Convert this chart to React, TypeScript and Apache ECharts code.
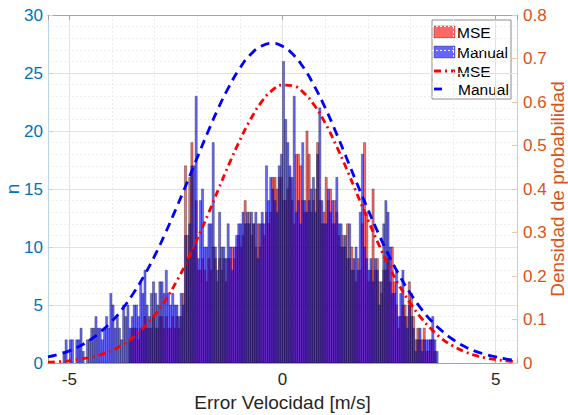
import React, { useEffect, useRef } from 'react';
import * as echarts from 'echarts';

const binStart = -5.15;
const binWidth = 0.05;

const manualCounts = [
  1, 2, 0, 2, 2, 0, 2, 2, 3, 1, 0, 2, 2, 3, 3, 4, 3, 3, 2, 3,
  4, 3, 6, 5, 3, 4, 3, 2, 5, 4, 5, 3, 4, 5, 5, 4, 7, 6, 8, 5,
  4, 6, 7, 6, 5, 7,
  7, 6, 8, 6, 5, 6, 5, 5, 4, 6, 5, 11, 9, 12, 17, 17, 23, 9, 14, 15,
  10, 10, 12, 12, 19, 10, 8, 13, 10, 10, 9, 12, 10, 8, 10, 11, 12, 12, 13, 12,
  13, 12, 13, 12, 13, 9, 12, 13, 12, 17, 14, 16, 15, 14, 13, 17,
  18, 26, 21, 19, 17, 16, 23, 13, 14, 12, 19, 14, 13, 14, 15, 16, 13, 18, 22, 14,
  12, 12, 15, 13, 14, 12, 16, 12, 12, 10, 11, 9, 12, 8, 9, 10, 8, 13, 18, 10,
  9, 8, 9, 7, 9, 8, 5, 7, 12, 14, 13, 10, 6, 6,
  8, 4, 6, 8, 4, 3, 5, 4, 3, 1, 2, 3, 1, 2, 2, 2, 2, 4, 2, 1,
];

const mseCounts = [
  0, 0, 0, 0, 0, 0, 0, 0, 0, 0, 0, 0, 0, 0, 0, 0, 0, 0, 0, 0,
  0, 0, 0, 0, 0, 0, 0, 0, 0, 0, 0, 2, 3, 3, 3, 2, 3, 3, 4, 3,
  3, 3, 4, 3, 3, 4,
  4, 3, 4, 3, 3, 4, 3, 4, 3, 4, 6, 17, 11, 16, 19, 10, 14, 8, 8, 9,
  8, 7, 9, 8, 10, 9, 7, 9, 8, 9, 7, 9, 9, 10, 9, 10, 11, 10, 11, 14,
  12, 13, 11, 12, 10, 12, 10, 12, 11, 13, 12, 13, 16, 16, 15, 16,
  16, 14, 14, 15, 16, 14, 12, 18, 18, 17, 14, 13, 20, 18, 13, 14, 15, 19, 14, 12,
  13, 16, 14, 15, 12, 14, 13, 11, 10, 11, 10, 12, 9, 10, 8, 7, 9, 8, 12, 19,
  13, 7, 8, 15, 8, 9, 7, 6, 8, 8, 9, 7, 10, 7,
  5, 3, 4, 5, 5, 4, 7, 6, 4, 2, 3, 2, 2, 3, 1, 1, 2, 2, 1, 0,
];

const densityX = [
  -5.5, -5.25, -5, -4.75, -4.5, -4.25, -4, -3.75, -3.5, -3.25, -3, -2.75, -2.5, -2.25, -2,
  -1.75, -1.5, -1.25, -1, -0.75, -0.5, -0.25, 0, 0.25, 0.5, 0.75, 1, 1.25, 1.5, 1.75,
  2, 2.25, 2.5, 2.75, 3, 3.25, 3.5, 3.75, 4, 4.25, 4.5, 4.75, 5, 5.25, 5.5,
];

const mseDensity = [
  0.002, 0.003, 0.005, 0.009, 0.013, 0.020, 0.029, 0.042, 0.059, 0.082, 0.110, 0.144, 0.185, 0.232, 0.285,
  0.341, 0.400, 0.458, 0.512, 0.560, 0.599, 0.626, 0.639, 0.637, 0.621, 0.592, 0.552, 0.502, 0.447, 0.388,
  0.330, 0.274, 0.222, 0.176, 0.137, 0.104, 0.077, 0.055, 0.039, 0.027, 0.018, 0.012, 0.008, 0.005, 0.003,
];

const manualDensity = [
  0.014, 0.020, 0.028, 0.039, 0.054, 0.073, 0.096, 0.125, 0.160, 0.200, 0.246, 0.298, 0.354, 0.412, 0.472,
  0.531, 0.587, 0.636, 0.678, 0.709, 0.728, 0.735, 0.728, 0.709, 0.678, 0.636, 0.587, 0.531, 0.472, 0.412,
  0.354, 0.298, 0.246, 0.200, 0.160, 0.125, 0.096, 0.073, 0.054, 0.039, 0.028, 0.020, 0.014, 0.009, 0.006,
];

const xTickLabels = [-5, 0, 5];

const FONT = '"Liberation Sans", Arial, Helvetica, sans-serif';
const BLUE_AX = '#0072BD';
const ORANGE_AX = '#D95319';
const MSE_FILL = 'rgba(255,0,0,0.6)';
const MAN_FILL = 'rgba(0,0,255,0.6)';
const EDGE = 'rgba(30,30,30,0.6)';

function toBins(counts: number[]) {
  return counts
    .map((c, i) => [binStart + i * binWidth, binStart + (i + 1) * binWidth, c])
    .filter((d) => d[2] > 0);
}

function barRender(fill: string) {
  return (_params: any, api: any) => {
    const x0 = api.value(0);
    const x1 = api.value(1);
    const c = api.value(2);
    const p0 = api.coord([x0, c]);
    const p1 = api.coord([x1, 0]);
    return {
      type: 'rect',
      shape: { x: p0[0], y: p0[1], width: p1[0] - p0[0], height: p1[1] - p0[1] },
      style: { fill, stroke: EDGE, lineWidth: 0.6 },
    };
  };
}

export default function App() {
  const ref = useRef<HTMLDivElement>(null);
  useEffect(() => {
    if (!ref.current) return;
    const chart = echarts.init(ref.current, null, { renderer: 'svg' });
    const lx = 434;
    const legendText = {
      fontSize: 15.5, fontFamily: FONT, fill: '#000',
      align: 'left' as const, verticalAlign: 'middle' as const,
    };
    chart.setOption({
      animation: false,
      backgroundColor: '#fff',
      textStyle: { fontFamily: FONT },
      grid: { left: 48, right: 51, top: 15, bottom: 52, containLabel: false, outerBoundsMode: 'none' },
      xAxis: [
        {
          type: 'value', min: -5.5, max: 5.5, minInterval: 1, maxInterval: 1, position: 'bottom',
          axisLine: { show: true, onZero: false, lineStyle: { color: '#a6a6a6', width: 1 } },
          axisTick: { show: false }, axisLabel: { show: false },
          splitLine: { show: true, lineStyle: { color: '#ececec', type: [2, 2] } },
        },
        {
          type: 'value', min: -5.5, max: 5.5, minInterval: 5, maxInterval: 5, position: 'bottom',
          axisLine: { show: false, onZero: false },
          axisTick: { show: true, inside: true, length: 5, lineStyle: { color: '#a6a6a6' } },
          axisLabel: {
            show: true, color: '#262626', fontSize: 17, margin: 8, fontFamily: FONT,
            formatter: (v: number) => (xTickLabels.includes(v) ? String(v) : ''),
          },
          splitLine: { show: true, lineStyle: { color: '#e2e2e2' } },
          name: 'Error Velocidad [m/s]', nameLocation: 'middle', nameGap: 30, nameMoveOverlap: false,
          nameTextStyle: { color: '#262626', fontSize: 19, fontFamily: FONT },
        },
        {
          type: 'value', min: -5.5, max: 5.5, minInterval: 5, maxInterval: 5, position: 'top',
          axisLine: { show: true, onZero: false, lineStyle: { color: '#a6a6a6' } },
          axisTick: { show: true, inside: true, length: 5, lineStyle: { color: '#a6a6a6' } },
          axisLabel: { show: false }, splitLine: { show: false },
        },
      ],
      yAxis: [
        {
          type: 'value', min: 0, max: 30, interval: 5, position: 'left',
          axisLine: { show: true, onZero: false, lineStyle: { color: '#b8d5ec' } },
          axisTick: { show: true, inside: true, length: 5, lineStyle: { color: '#b8d5ec' } },
          axisLabel: { color: BLUE_AX, fontSize: 17, margin: 5, fontFamily: FONT },
          splitLine: { show: true, lineStyle: { color: '#e2e2e2' } },
          minorTick: { show: false, splitNumber: 5 },
          minorSplitLine: { show: true, lineStyle: { color: '#efefef', type: [2, 2] } },
          name: 'n', nameLocation: 'middle', nameGap: 26, nameRotate: 90, nameMoveOverlap: false,
          nameTextStyle: { color: BLUE_AX, fontSize: 19, fontFamily: FONT },
        },
        {
          type: 'value', min: 0, max: 0.8, interval: 0.1, position: 'right',
          axisLine: { show: true, onZero: false, lineStyle: { color: '#f2c4ae' } },
          axisTick: { show: true, inside: true, length: 5, lineStyle: { color: '#f2c4ae' } },
          axisLabel: { color: ORANGE_AX, fontSize: 17, margin: 6, fontFamily: FONT },
          splitLine: { show: false },
          name: 'Densidad de probabilidad', nameLocation: 'middle', nameGap: 31, nameRotate: 90,
          nameMoveOverlap: false,
          nameTextStyle: { color: ORANGE_AX, fontSize: 19, fontFamily: FONT },
        },
      ],
      series: [
        {
          type: 'custom', name: 'MSE', xAxisIndex: 0, yAxisIndex: 0, clip: true,
          renderItem: barRender(MSE_FILL), encode: { x: [0, 1], y: 2 },
          data: toBins(mseCounts), z: 2,
        },
        {
          type: 'custom', name: 'Manual', xAxisIndex: 0, yAxisIndex: 0, clip: true,
          renderItem: barRender(MAN_FILL), encode: { x: [0, 1], y: 2 },
          data: toBins(manualCounts), z: 3,
        },
        {
          type: 'line', name: 'MSE pdf', xAxisIndex: 0, yAxisIndex: 1, smooth: true, showSymbol: false,
          lineStyle: { color: '#ff0000', width: 2.8, type: [7, 4, 2, 4] },
          data: densityX.map((x, i) => [x, mseDensity[i]]), z: 4,
        },
        {
          type: 'line', name: 'Manual pdf', xAxisIndex: 0, yAxisIndex: 1, smooth: true, showSymbol: false,
          lineStyle: { color: '#0000ff', width: 2.8, type: [9, 6] },
          data: densityX.map((x, i) => [x, manualDensity[i]]), z: 5,
        },
      ],
      graphic: [
        {
          type: 'group', z: 100,
          children: [
            { type: 'rect', shape: { x: 432, y: 20, width: 79, height: 79 }, style: { fill: '#fff', stroke: '#8c8c8c', lineWidth: 1 } },
            { type: 'rect', shape: { x: lx, y: 26, width: 21, height: 12 }, style: { fill: MSE_FILL, stroke: EDGE, lineWidth: 0.6 } },
            { type: 'text', x: 457, y: 32, style: { text: 'MSE', ...legendText } },
            { type: 'rect', shape: { x: lx, y: 46, width: 21, height: 12 }, style: { fill: MAN_FILL, stroke: EDGE, lineWidth: 0.6 } },
            { type: 'text', x: 457, y: 52, style: { text: 'Manual', ...legendText } },
            { type: 'line', shape: { x1: lx, y1: 71, x2: lx + 21, y2: 71 }, style: { stroke: '#ff0000', lineWidth: 2.8, lineDash: [7, 4, 2, 4] } },
            { type: 'text', x: 457, y: 71, style: { text: 'MSE', ...legendText } },
            { type: 'line', shape: { x1: lx, y1: 89, x2: lx + 21, y2: 89 }, style: { stroke: '#0000ff', lineWidth: 2.8, lineDash: [8, 14] } },
            { type: 'text', x: 458, y: 89, style: { text: 'Manual', ...legendText } },
          ],
        },
      ],
    });
    return () => chart.dispose();
  }, []);
  return (
    <div
      ref={ref}
      style={{ position: 'absolute', left: 0, top: 0, width: 568, height: 415 }}
    />
  );
}
